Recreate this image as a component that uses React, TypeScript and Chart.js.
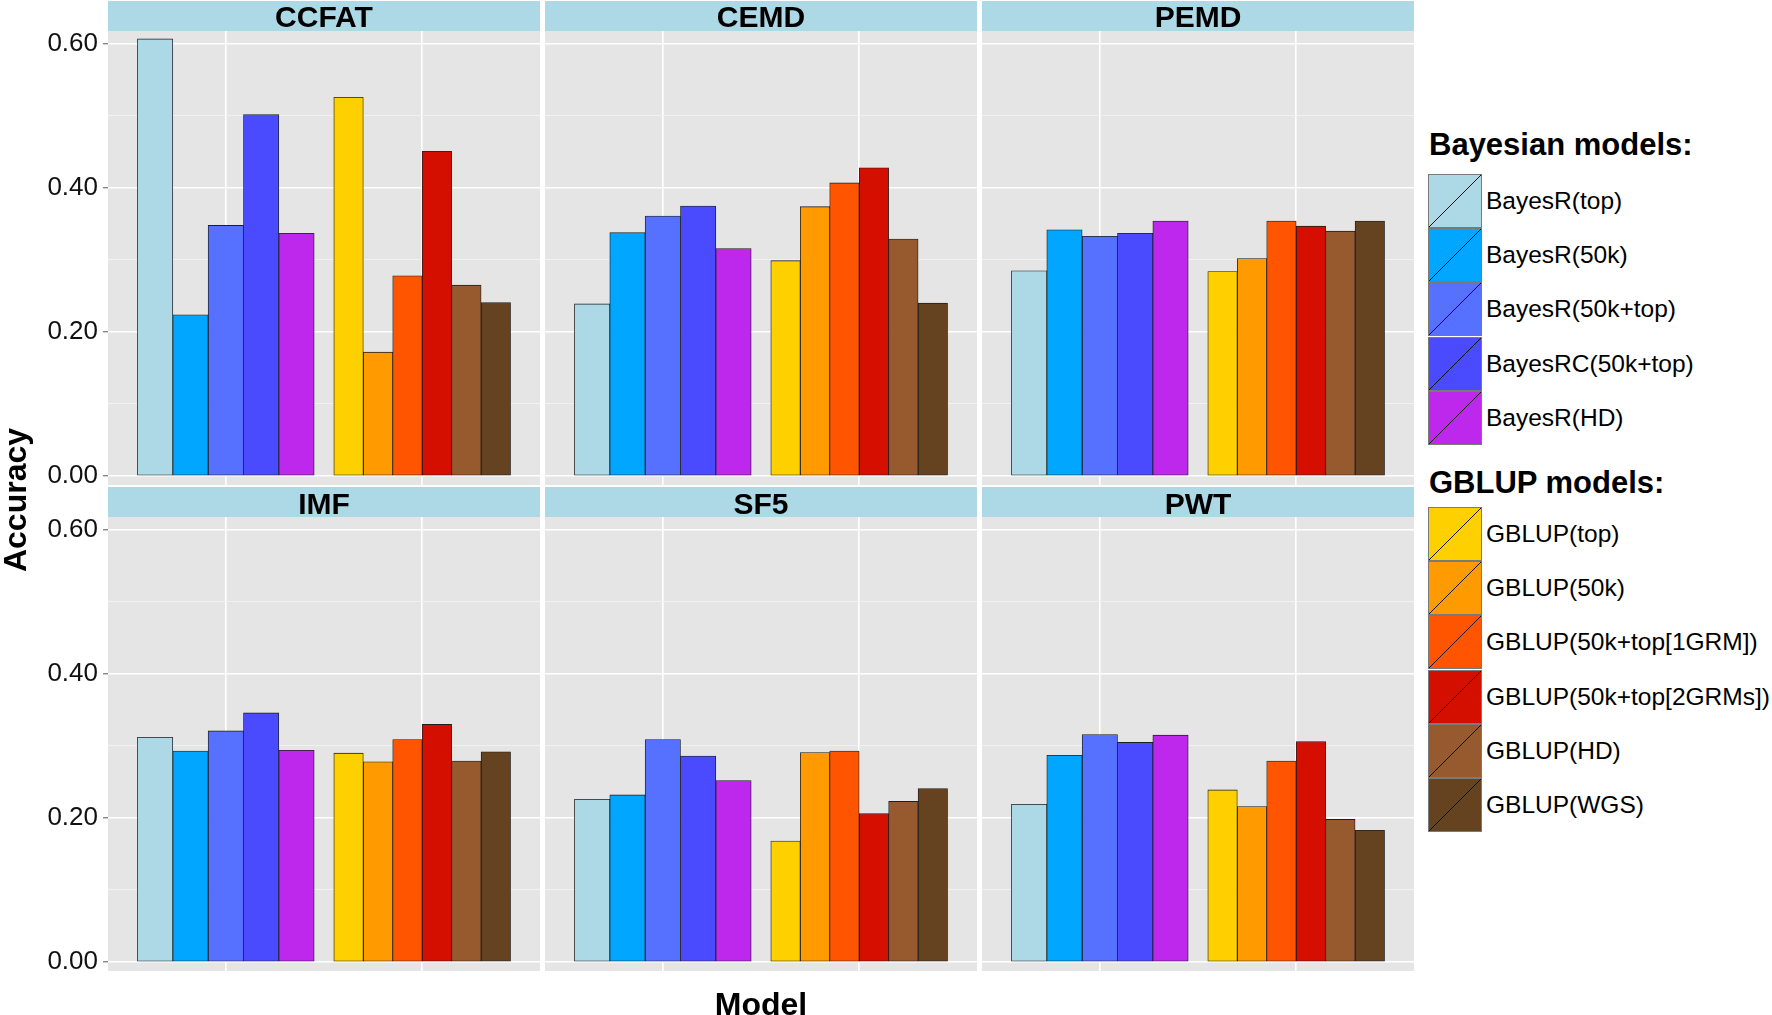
import React, { useEffect, useRef } from 'react';
import { Chart, registerables } from 'chart.js';

Chart.register(...registerables);
Chart.defaults.font.family = "'Liberation Sans', Arial, Helvetica, sans-serif";

// ---------------- data ----------------
const TRAITS = ['CCFAT', 'CEMD', 'PEMD', 'IMF', 'SF5', 'PWT'];
const MODEL_GROUPS = ['Bayesian models:', 'GBLUP models:'];
const BAYES_MODELS = ['BayesR(top)', 'BayesR(50k)', 'BayesR(50k+top)', 'BayesRC(50k+top)', 'BayesR(HD)'];
const GBLUP_MODELS = ['GBLUP(top)', 'GBLUP(50k)', 'GBLUP(50k+top[1GRM])', 'GBLUP(50k+top[2GRMs])', 'GBLUP(HD)', 'GBLUP(WGS)'];
const BAYES_COLORS = ['#ADD8E6', '#00A6FF', '#5670FF', '#4A4AFF', '#BD28EC'];
const GBLUP_COLORS = ['#FFD000', '#FF9A00', '#FF5500', '#D50F00', '#975A2E', '#654321'];

const CCFAT_BAYES = [0.607, 0.224, 0.348, 0.502, 0.337];
const CCFAT_GBLUP = [0.526, 0.172, 0.278, 0.451, 0.265, 0.241];
const CEMD_BAYES = [0.239, 0.338, 0.361, 0.375, 0.316];
const CEMD_GBLUP = [0.299, 0.374, 0.407, 0.428, 0.329, 0.240];
const PEMD_BAYES = [0.285, 0.342, 0.333, 0.337, 0.354];
const PEMD_GBLUP = [0.284, 0.302, 0.354, 0.347, 0.340, 0.354];
const IMF_BAYES = [0.312, 0.293, 0.321, 0.346, 0.294];
const IMF_GBLUP = [0.290, 0.278, 0.309, 0.330, 0.279, 0.292];
const SF5_BAYES = [0.226, 0.232, 0.309, 0.286, 0.252];
const SF5_GBLUP = [0.168, 0.291, 0.293, 0.206, 0.223, 0.241];
const PWT_BAYES = [0.219, 0.287, 0.316, 0.305, 0.315];
const PWT_GBLUP = [0.239, 0.216, 0.279, 0.306, 0.198, 0.183];

const BAYES_BY_TRAIT = [CCFAT_BAYES, CEMD_BAYES, PEMD_BAYES, IMF_BAYES, SF5_BAYES, PWT_BAYES];
const GBLUP_BY_TRAIT = [CCFAT_GBLUP, CEMD_GBLUP, PEMD_GBLUP, IMF_GBLUP, SF5_GBLUP, PWT_GBLUP];

const Y_MAJOR_TICKS = [0, 0.2, 0.4, 0.6];
const Y_MINOR_TICKS = [0.1, 0.3, 0.5];
const Y_TICK_LABELS = ['0.00', '0.20', '0.40', '0.60'];
const Y_MIN = -0.0125;
const Y_MAX = 0.618;
const X_MIN = -0.6;
const X_MAX = 1.6;
const DODGE_WIDTH = 0.9;

// ---------------- layout ----------------
const COL_LEFT = [108, 545, 982];
const PANEL_W = 432;
const ROW_TOP = [31, 517];
const PANEL_H = 454;
const STRIP_H = 30;
const Y_AXIS_W = 108;
const PAD_V = 24;
const FONT = "'Liberation Sans', Arial, Helvetica, sans-serif";

const panelBg = {
  id: 'panelBg',
  beforeDraw(chart: any) {
    const { ctx, chartArea: a } = chart;
    ctx.save();
    ctx.fillStyle = '#E5E5E5';
    ctx.fillRect(a.left, a.top, a.right - a.left, a.bottom - a.top);
    ctx.restore();
  },
};

const isMajor = (v: number) => Y_MAJOR_TICKS.some((m) => Math.abs(m - v) < 1e-9);

// position_dodge: slot centre of bar k out of n inside the group at index g
const dodge = (g: number, k: number, n: number) => g + (k - (n - 1) / 2) * (DODGE_WIDTH / n);

function Panel({ idx }: { idx: number }) {
  const ref = useRef<HTMLCanvasElement>(null);
  const col = idx % 3;
  const row = Math.floor(idx / 3);
  const showY = col === 0;
  const padL = showY ? Y_AXIS_W : 0;
  const w = PANEL_W + padL;
  const h = PANEL_H + 2 * PAD_V;

  useEffect(() => {
    const bayes = BAYES_BY_TRAIT[idx];
    const gblup = GBLUP_BY_TRAIT[idx];
    const barStyle = {
      borderColor: 'rgba(20,20,20,0.95)',
      borderWidth: 0.85,
      borderSkipped: false,
    };
    const datasets: any[] = [
      ...BAYES_MODELS.map((m, i) => ({
        label: m,
        data: [{ x: dodge(0, i, BAYES_MODELS.length), y: bayes[i] }],
        backgroundColor: BAYES_COLORS[i],
        xAxisID: 'xb',
        ...barStyle,
      })),
      ...GBLUP_MODELS.map((m, i) => ({
        label: m,
        data: [{ x: dodge(1, i, GBLUP_MODELS.length), y: gblup[i] }],
        backgroundColor: GBLUP_COLORS[i],
        xAxisID: 'xg',
        ...barStyle,
      })),
    ];
    const groupTicks = (s: any) => {
      s.ticks = MODEL_GROUPS.map((_, i) => ({ value: i }));
    };
    const chart = new Chart(ref.current as HTMLCanvasElement, {
      type: 'bar',
      data: { datasets },
      options: {
        animation: false,
        responsive: false,
        layout: { padding: { top: PAD_V, bottom: PAD_V, left: 0, right: 0 } },
        datasets: {
          bar: { categoryPercentage: 1.0, barPercentage: 1.0, grouped: false },
        } as any,
        plugins: {
          legend: { display: false },
          tooltip: { enabled: false },
        },
        scales: {
          xb: {
            type: 'linear',
            position: 'bottom',
            min: X_MIN,
            max: X_MAX,
            offset: false,
            afterBuildTicks: groupTicks,
            ticks: { display: false },
            grid: { offset: false, color: '#FFFFFF', lineWidth: 1.6, drawTicks: false },
            border: { display: false },
          },
          xg: {
            type: 'linear',
            position: 'bottom',
            min: X_MIN,
            max: X_MAX,
            offset: false,
            afterBuildTicks: groupTicks,
            ticks: { display: false },
            grid: { offset: false, display: false, drawTicks: false },
            border: { display: false },
          },
          y: {
            type: 'linear',
            position: 'left',
            min: Y_MIN,
            max: Y_MAX,
            afterBuildTicks: (s: any) => {
              s.ticks = [...Y_MAJOR_TICKS, ...Y_MINOR_TICKS]
                .sort((a, b) => a - b)
                .map((v) => ({ value: v }));
            },
            afterFit: (s: any) => {
              s.width = padL;
            },
            ticks: {
              display: showY,
              autoSkip: false,
              padding: 5,
              color: '#111111',
              font: { size: 26, family: FONT },
              callback: (v: any) => {
                const k = Y_MAJOR_TICKS.findIndex((m) => Math.abs(m - Number(v)) < 1e-9);
                return k >= 0 ? Y_TICK_LABELS[k] : '';
              },
            },
            grid: {
              color: (ctx: any) => (isMajor(ctx.tick.value) ? '#FFFFFF' : '#F2F2F2'),
              lineWidth: (ctx: any) => (isMajor(ctx.tick.value) ? 1.6 : 0.9),
              drawTicks: showY,
              tickLength: 5,
              tickWidth: 1,
              tickColor: (ctx: any) => (isMajor(ctx.tick.value) ? '#555555' : 'rgba(0,0,0,0)'),
            },
            border: { display: false },
          },
        } as any,
      },
      plugins: [panelBg],
    });
    return () => chart.destroy();
  }, []);

  return (
    <>
      <canvas
        ref={ref}
        width={w}
        height={h}
        style={{
          position: 'absolute',
          left: COL_LEFT[col] - padL,
          top: ROW_TOP[row] - PAD_V,
          width: w,
          height: h,
        }}
      />
      <div
        style={{
          position: 'absolute',
          left: COL_LEFT[col],
          top: ROW_TOP[row] - STRIP_H,
          width: PANEL_W,
          height: STRIP_H,
          background: '#ADD8E6',
          color: '#000',
          font: `bold 30px ${FONT}`,
          lineHeight: `${STRIP_H}px`,
          textAlign: 'center',
          zIndex: 2,
        }}
      >
        <span style={{ position: 'relative', top: row === 0 ? 0.5 : 1.5 }}>{TRAITS[idx]}</span>
      </div>
    </>
  );
}

function LegendBlock({
  title,
  titleTop,
  keysTop,
  models,
  colors,
}: {
  title: string;
  titleTop: number;
  keysTop: number;
  models: string[];
  colors: string[];
}) {
  const KEY = 54;
  const PITCH = 54.2;
  return (
    <>
      <div
        style={{
          position: 'absolute',
          left: 1429,
          top: titleTop,
          font: `bold 31px ${FONT}`,
          lineHeight: '31px',
          whiteSpace: 'nowrap',
          color: '#000',
        }}
      >
        {title}
      </div>
      {models.map((m, i) => (
        <div
          key={m}
          style={{
            position: 'absolute',
            left: 1428,
            top: keysTop + i * PITCH,
            height: KEY,
            display: 'flex',
            alignItems: 'center',
            whiteSpace: 'nowrap',
          }}
        >
          <svg width={KEY} height={KEY} style={{ display: 'block' }}>
            <rect x={0.5} y={0.5} width={KEY - 1} height={KEY - 1} fill={colors[i]} stroke="#7a7a7a" strokeWidth={1} />
            <line x1={1} y1={KEY - 1} x2={KEY - 1} y2={1} stroke="#111" strokeWidth={1} />
          </svg>
          <span style={{ marginLeft: 4, font: `24.5px ${FONT}`, color: '#000', lineHeight: '28px' }}>{m}</span>
        </div>
      ))}
    </>
  );
}

export default function App() {
  return (
    <div
      style={{
        position: 'absolute',
        left: 0,
        top: 0,
        width: 1772,
        height: 1015,
        background: '#FFFFFF',
        overflow: 'hidden',
        fontFamily: FONT,
      }}
    >
      {TRAITS.map((t, i) => (
        <Panel key={t} idx={i} />
      ))}
      <div
        style={{
          position: 'absolute',
          left: 13 - 100,
          top: 500 - 16,
          width: 200,
          height: 32,
          lineHeight: '32px',
          textAlign: 'center',
          font: `bold 32px ${FONT}`,
          transform: 'rotate(-90deg)',
          color: '#000',
          zIndex: 3,
        }}
      >
        Accuracy
      </div>
      <div
        style={{
          position: 'absolute',
          left: 761 - 150,
          top: 986,
          width: 300,
          height: 32,
          lineHeight: '32px',
          textAlign: 'center',
          font: `bold 32px ${FONT}`,
          color: '#000',
        }}
      >
        Model
      </div>
      <LegendBlock title={MODEL_GROUPS[0]} titleTop={129} keysTop={174} models={BAYES_MODELS} colors={BAYES_COLORS} />
      <LegendBlock title={MODEL_GROUPS[1]} titleTop={467} keysTop={507} models={GBLUP_MODELS} colors={GBLUP_COLORS} />
    </div>
  );
}
